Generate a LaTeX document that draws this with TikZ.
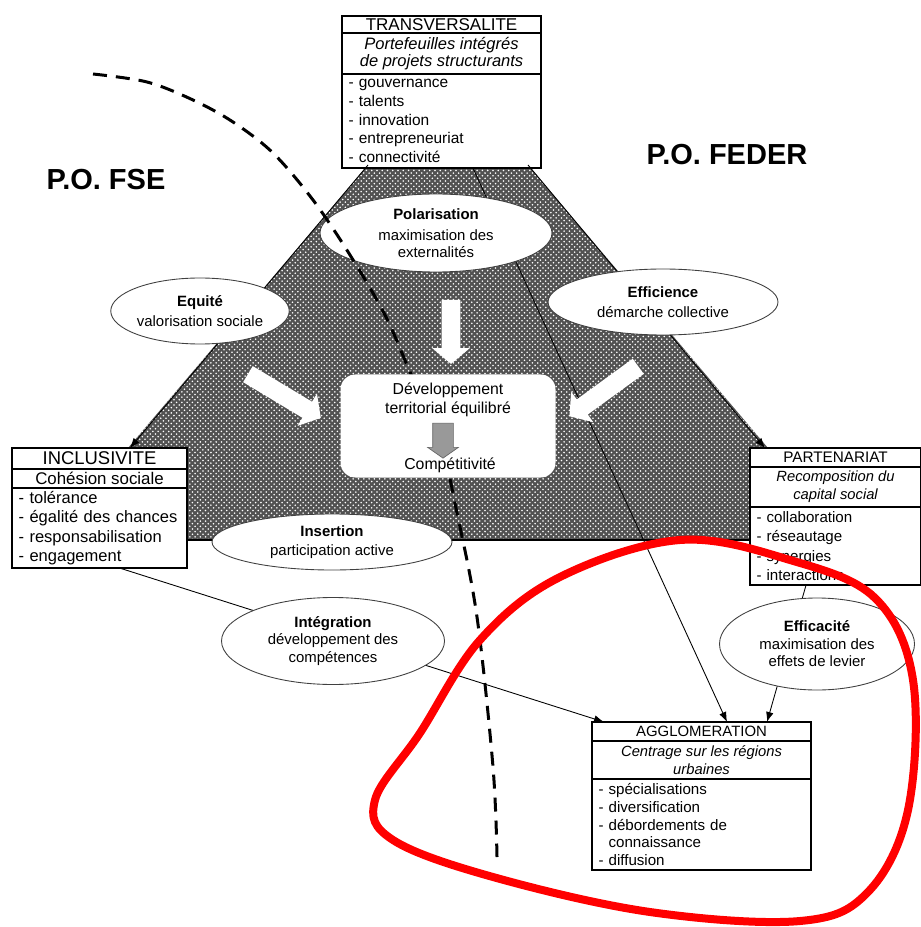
\documentclass[tikz,border=0pt]{standalone}
\usepackage{fontspec}
\setmainfont{Liberation Sans}
\usetikzlibrary{shapes.geometric, shapes.arrows, arrows.meta, positioning, patterns}

\begin{document}
\begin{tikzpicture}[
    x=0.2mm, y=-0.2mm,
    hatch/.style={fill=black!68, postaction={pattern=crosshatch dots, pattern color=white}},
    boxhead/.style={draw, fill=white, line width=0.6pt, inner sep=0pt, align=center, anchor=north west},
    boxsub/.style={draw, fill=white, line width=0.6pt, inner sep=0pt, align=center},
    boxlist/.style={draw, fill=white, line width=0.6pt, inner xsep=1.2mm, inner ysep=0pt, align=left},
    oval/.style={ellipse, draw=black!75, fill=white, line width=0.5pt, inner sep=0pt, align=center, font=\fontsize{8.5}{10}\selectfont},
    whitearrow/.style={single arrow, fill=white, inner sep=0pt, inner ysep=1.8mm, single arrow head extend=1.9mm, single arrow tip angle=100},
    grayarrow/.style={single arrow, draw=black!60, fill=black!40, inner sep=0pt, inner ysep=2mm, single arrow head extend=1mm, single arrow tip angle=110},
    arrow/.style={-{Latex[length=2mm, width=1.5mm]}, line width=0.5pt},
    dashline/.style={dashed, line width=0.6mm, dash pattern=on 2.8mm off 1.8mm},
    redloop/.style={red, line width=1.6mm},
    title/.style={font=\fontsize{16.5}{18}\selectfont\bfseries}
]
\useasboundingbox (0,0) rectangle (920,927);

% Hatched triangle behind everything
\coordinate (tl) at (368,165);
\coordinate (tr) at (528,165);
\fill[hatch] (tl) -- (tr) -- (846,540) -- (50,540) -- cycle;
\draw[line width=0.6pt] (50,540) -- (846,540);

% Top box
\node (trans) [boxhead, minimum width=39.6mm, minimum height=3.2mm, font=\fontsize{9.7}{10}\selectfont] at (342,16) {TRANSVERSALITE};
\node (transsub) [boxsub, minimum width=39.6mm, minimum height=8mm, below=0pt of trans, font=\fontsize{9.4}{9.8}\selectfont\itshape] {Portefeuilles intégrés\\de projets structurants};
\node (translist) [boxlist, text width=37.2mm, minimum height=18.6mm, below=0pt of transsub, font=\fontsize{8.8}{10.6}\selectfont] {- gouvernance\\- talents\\- innovation\\- entrepreneuriat\\- connectivité};
\draw[line width=1.4pt] (trans.north west) rectangle (translist.south east);
\draw[line width=1.4pt] (trans.south west) -- (trans.south east);

% Left box
\node (incl) [boxhead, minimum width=34.8mm, minimum height=4mm, font=\fontsize{10.5}{11}\selectfont] at (12,448) {INCLUSIVITE};
\node (inclsub) [boxsub, minimum width=34.8mm, minimum height=3.6mm, below=0pt of incl, font=\fontsize{9.6}{10}\selectfont] {Cohésion sociale};
\node (incllist) [boxlist, text width=32.4mm, minimum height=15.8mm, below=0pt of inclsub, font=\fontsize{9.4}{11}\selectfont] {- tolérance\\- égalité des chances\\- responsabilisation\\- engagement};
\draw[line width=1.4pt] (incl.north west) rectangle (incllist.south east);
\draw[line width=1.4pt] (incl.south west) -- (incl.south east);

% Right box
\node (part) [boxhead, minimum width=34mm, minimum height=3.6mm, font=\fontsize{8.7}{9}\selectfont] at (750,448) {PARTENARIAT};
\node (partsub) [boxsub, minimum width=34mm, minimum height=7.8mm, below=0pt of part, font=\fontsize{8.4}{10.2}\selectfont\itshape] {Recomposition du\\capital social};
\node (partlist) [boxlist, text width=31.6mm, minimum height=15.4mm, below=0pt of partsub, font=\fontsize{8.6}{11}\selectfont] {- collaboration\\- réseautage\\- synergies\\- interactions};
\draw[line width=1.4pt] (part.north west) rectangle (partlist.south east);
\draw[line width=1.4pt] (part.south west) -- (part.south east);

% Bottom box
\node (aggl) [boxhead, minimum width=43.6mm, minimum height=3.6mm, font=\fontsize{8.5}{9}\selectfont] at (592,722) {AGGLOMERATION};
\node (agglsub) [boxsub, minimum width=43.6mm, minimum height=7.4mm, below=0pt of aggl, font=\fontsize{8.4}{10.2}\selectfont\itshape] {Centrage sur les régions\\urbaines};
\node (aggllist) [boxlist, text width=41.2mm, minimum height=18mm, below=0pt of agglsub, font=\fontsize{8.6}{10}\selectfont] {- spécialisations\\- diversification\\- débordements de\\\phantom{- }connaissance\\- diffusion};
\draw[line width=1.4pt] (aggl.north west) rectangle (aggllist.south east);
\draw[line width=1.4pt] (aggl.south west) -- (aggl.south east);

% Connections
\draw[arrow] (tl) -- (incl.north -| 130,0);
\draw[arrow] (tr) -- (part.north -| 765,0);
\draw[arrow] (translist.south -| 473,0) -- (aggl.north -| 727,0);
\draw[arrow] (incllist.south -| 120,0) -- (aggl.north -| 604,0);
\draw[arrow] (partlist.south -| 806,0) -- (aggl.north -| 767,0);

% Ellipses
\node (pol) [oval, minimum width=46.4mm, minimum height=15.6mm] at (436,233) {\textbf{Polarisation}\\[2pt]maximisation des\\externalités};
\node (equ) [oval, minimum width=35.2mm, minimum height=13.2mm] at (200,311) {\textbf{Equité}\\[1pt]valorisation sociale};
\node (effi) [oval, minimum width=46mm, minimum height=13.2mm] at (663,302) {\textbf{Efficience}\\[1pt]démarche collective};
\node (ins) [oval, minimum width=48mm, minimum height=11.2mm] at (332,542) {\textbf{Insertion}\\[1pt]participation active};
\node (integ) [oval, minimum width=44.6mm, minimum height=17.4mm] at (333,641) {\textbf{Intégration}\\développement des\\compétences};
\node (effa) [oval, minimum width=39mm, minimum height=18.4mm] at (817,644) {\textbf{Efficacité}\\maximisation des\\effets de levier};

% Dashed border between the two programmes
\draw[dashline] plot[smooth, tension=0.55] coordinates {(93,74) (147,82) (193,100) (233,122) (273,153) (313,200) (350,255) (385,315) (410,372) (440,440) (457,513) (477,617) (493,767) (497,857)};

% Centre
\node (centre) [fill=white, rounded corners=3mm, minimum width=43mm, minimum height=20.6mm] at (448,426) {};
\node (devt) [align=center, font=\fontsize{9}{10.5}\selectfont] at (448,400) {Développement\\territorial équilibré};
\node (grayarr) [grayarrow, minimum height=7mm, rotate=-90] at (443,437) {};
\node (comp) [font=\fontsize{9}{10}\selectfont] at (450,465) {Compétitivité};

% White arrows towards the centre
\node (arrdown) [whitearrow, minimum height=12.8mm, rotate=-90] at (451,328) {};
\node (arrleft) [whitearrow, minimum height=17mm, rotate=-31] at (281,394) {};
\node (arrright) [whitearrow, minimum height=17mm, rotate=-144] at (607,389) {};

% Programme labels
\node (fse) [title] at (106,180) {P.O. FSE};
\node (feder) [title] at (727,155) {P.O. FEDER};

% Red loop
\draw[redloop] plot[smooth cycle, tension=0.6] coordinates {(375,800) (420,733) (480,640) (560,577) (680,540) (790,560) (875,598) (913,680) (908,810) (868,892) (800,921) (650,912) (493,877) (393,840)};

\end{tikzpicture}
\end{document}
